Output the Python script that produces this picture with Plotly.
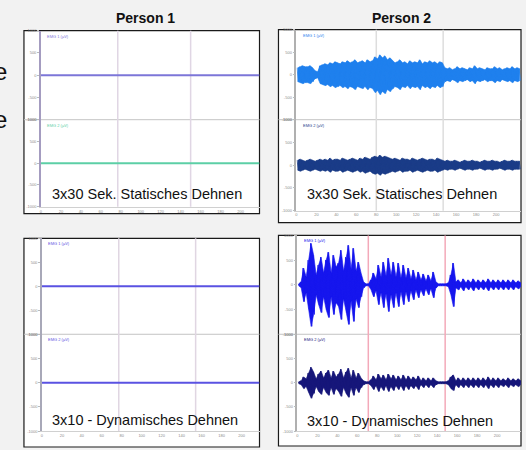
import numpy as np
import plotly.graph_objects as go

W, H = 526, 450

# ---------------- DATA ----------------
# Person 1 : flat signals (µV) over the recording duration (s)
p1_static_time = [0, 219]
p1_static_ch1 = [0, 0]
p1_static_ch2 = [0, 0]
p1_dyn_time = [0, 218]
p1_dyn_ch1 = [0, 0]
p1_dyn_ch2 = [0, 0]

# Person 2 : EMG envelope amplitude (µV), one value every 2.5 s
sample_dt = 2.5
p2_static_ch1 = [154, 176, 198, 176, 176, 198, 154, 88, 66,
                 198, 220, 242, 220, 264, 242, 286, 264, 242, 286, 264, 308, 264, 286, 330, 264, 286, 308, 264, 330, 286, 308,
                 396, 352, 440, 374, 418, 330, 374,
                 308, 264, 286, 330, 264, 286, 242, 308, 264, 286, 264, 330, 242, 286, 264, 308, 264, 286, 242, 286, 264,
                 154, 132, 154, 110, 132, 176, 132, 154, 132, 110, 154, 132, 198, 132, 154, 132, 110, 154, 132, 132, 176,
                 132, 154, 110, 132, 154, 132, 176, 132, 154, 132]
p2_static_ch2 = [110, 132, 110, 88, 110, 132, 110, 88, 110, 132, 110, 132, 110, 154, 110, 132, 132, 110, 154, 132,
                 110, 132, 154, 132, 110, 154, 132, 176, 154, 132, 176,
                 198, 176, 220, 176, 198, 176, 154,
                 132, 154, 132, 110, 154, 132, 132, 110, 154, 132, 110, 132, 154, 132, 110, 132, 132, 110, 154, 132, 110,
                 88, 110, 88, 88, 110, 88, 66, 88, 110, 88, 88, 110, 88, 88, 66, 88, 110, 88, 88, 110, 88, 88, 66, 88,
                 110, 88, 88, 110, 88, 88, 88]
p2_dyn_ch1 = [20, 60, 340, 160, 500, 840, 600, 200, 400, 560,
              240, 500, 660, 240, 600, 360, 440, 700, 280, 560,
              800, 320, 740, 280, 460, 240, 60, 20, 20, 100,
              240, 120, 400, 160, 460, 180, 540, 200, 460, 160,
              440, 140, 400, 140, 340, 120, 300, 100, 260, 100,
              220, 80, 200, 80, 260, 60, 20, 20, 20, 20,
              40, 200, 440, 60, 100, 40, 120, 40, 100, 40,
              120, 40, 100, 40, 100, 40, 120, 40, 100, 40,
              100, 40, 100, 40, 100, 40, 100, 40, 80, 40]
p2_dyn_ch2 = [20, 40, 120, 80, 200, 320, 220, 80, 180, 240,
              100, 200, 260, 100, 240, 120, 180, 280, 100, 220,
              300, 100, 260, 100, 200, 100, 40, 20, 20, 60,
              140, 60, 180, 80, 160, 60, 180, 80, 160, 60,
              140, 60, 160, 60, 140, 60, 120, 60, 140, 40,
              100, 40, 100, 40, 100, 40, 20, 20, 20, 20,
              40, 120, 160, 40, 100, 40, 100, 40, 100, 40,
              100, 40, 100, 40, 100, 40, 120, 40, 100, 40,
              100, 40, 80, 40, 100, 40, 80, 40, 80, 40]

# event markers (s)
markers_p1_static = [77, 150]
markers_p2_static = [80, 147]
markers_p1_dyn = [77, 154]
markers_p2_dyn = [71, 148]

# durations (s)
dur_p1_static, dur_p2_static, dur_p1_dyn, dur_p2_dyn = 219, 225, 218, 224

column_titles = ["Person 1", "Person 2"]
panel_texts = ["3x30 Sek. Statisches Dehnen", "3x30 Sek. Statisches Dehnen",
               "3x10 - Dynamisches Dehnen", "3x10 - Dynamisches Dehnen"]
channel_names = ["EMG 1 (µV)", "EMG 2 (µV)"]
ytick_vals = [-1000, -500, 0, 500, 1000]
ytick_text = ["-1000", "-500", "0", "500", "1000"]

# ---------------- LAYOUT GEOMETRY (pixels) ----------------
def px_x(p):
    return p / W

def px_y(p):
    return 1 - p / H

panels = [
    dict(box=(23, 28, 259, 213), axx=40, ch=[(28, 118), (118, 206)], kind="flat",
         time=p1_static_time, data=[p1_static_ch1, p1_static_ch2], dur=dur_p1_static,
         colors=["#7c76d8", "#5ccfa6"], markers=markers_p1_static, mcol="#e0d6e4",
         text=panel_texts[0], tx=146, ty=193, axcol="#a49cc0"),
    dict(box=(278, 27, 521, 222), axx=296, ch=[(27, 118), (118, 210)], kind="emg",
         data=[p2_static_ch1, p2_static_ch2], dur=dur_p2_static,
         colors=["#1f80ee", "#1b3c88"], markers=markers_p2_static, mcol="#dddddd",
         text=panel_texts[1], tx=402, ty=193, axcol="#b0b0b0"),
    dict(box=(23, 238, 259, 449), axx=41, ch=[(238, 335), (335, 433)], kind="flat",
         time=p1_dyn_time, data=[p1_dyn_ch1, p1_dyn_ch2], dur=dur_p1_dyn,
         colors=["#5a52e2", "#5a52e2"], markers=markers_p1_dyn, mcol="#e0d6e2",
         text=panel_texts[2], tx=144, ty=422, axcol="#a8a8b8"),
    dict(box=(278, 235, 521, 448), axx=297, ch=[(235, 335), (335, 433)], kind="emg",
         data=[p2_dyn_ch1, p2_dyn_ch2], dur=dur_p2_dyn,
         colors=["#1616ee", "#17177a"], markers=markers_p2_dyn, mcol="#f3a9b9",
         text=panel_texts[3], tx=400, ty=423, axcol="#b0b0b0"),
]

fig = go.Figure()
shapes = []
annotations = []
layout_axes = {}

for pi, p in enumerate(panels):
    bx0, by0, bx1, by1 = p["box"]
    shapes.append(dict(type="rect", xref="paper", yref="paper",
                       x0=px_x(bx0), x1=px_x(bx1), y0=px_y(by1), y1=px_y(by0),
                       fillcolor="white", line=dict(color="#1a1a1a", width=1.2), layer="below"))
    shapes.append(dict(type="line", xref="paper", yref="paper",
                       x0=px_x(bx0), x1=px_x(bx1), y0=px_y(p["ch"][0][1]), y1=px_y(p["ch"][0][1]),
                       line=dict(color="#c4c4c4", width=1), layer="below"))
    for ci in range(2):
        n = 2 * pi + ci + 1
        xs = "x" if n == 1 else f"x{n}"
        ys = "y" if n == 1 else f"y{n}"
        xa = "xaxis" if n == 1 else f"xaxis{n}"
        ya = "yaxis" if n == 1 else f"yaxis{n}"
        top, bot = p["ch"][ci]
        layout_axes[xa] = dict(domain=[px_x(p["axx"]), px_x(bx1)], range=[0, p["dur"]], anchor=ys,
                               showgrid=False, zeroline=False,
                               showticklabels=(ci == 1), tickvals=list(range(0, p["dur"] - 8, 20)), ticks="",
                               tickfont=dict(size=4, color="#8c8c8c"),
                               showline=(ci == 1), linecolor="#d0d0d0", linewidth=1)
        layout_axes[ya] = dict(domain=[px_y(bot), px_y(top)], range=[-1000, 1000], anchor=xs,
                               showgrid=False, zeroline=False, tickvals=ytick_vals, ticktext=ytick_text,
                               ticks="outside", ticklen=2, tickcolor="#bbbbbb",
                               tickfont=dict(size=4, color="#8c8c8c"),
                               showline=True, linecolor=p["axcol"], linewidth=1.5)
        col = p["colors"][ci]
        if p["kind"] == "flat":
            fig.add_trace(go.Scatter(x=p["time"], y=p["data"][ci], mode="lines",
                                     line=dict(color=col, width=2), xaxis=xs, yaxis=ys,
                                     showlegend=False, hoverinfo="skip"))
        else:
            amp = np.array(p["data"][ci], dtype=float)
            t = np.arange(len(amp)) * sample_dt + sample_dt / 2
            fig.add_trace(go.Scatter(x=t, y=-amp, mode="lines", line=dict(color=col, width=0.6),
                                     xaxis=xs, yaxis=ys, showlegend=False, hoverinfo="skip"))
            fig.add_trace(go.Scatter(x=t, y=amp, mode="lines", fill="tonexty", fillcolor=col,
                                     line=dict(color=col, width=0.6),
                                     xaxis=xs, yaxis=ys, showlegend=False, hoverinfo="skip"))
            zz_t = np.repeat(t, 2) + np.tile([-0.6, 0.6], len(t))
            zz_y = np.repeat(amp, 2) * np.tile([1.0, -1.0], len(t))
            fig.add_trace(go.Scatter(x=zz_t, y=zz_y, mode="lines", line=dict(color=col, width=0.8),
                                     xaxis=xs, yaxis=ys, showlegend=False, hoverinfo="skip"))
        annotations.append(dict(xref=f"{xs} domain", yref=f"{ys} domain", x=0.02, y=0.99,
                                xanchor="left", yanchor="top", showarrow=False,
                                text=channel_names[ci], font=dict(size=4, color=col)))
    xs1 = "x" if pi == 0 else f"x{2 * pi + 1}"
    for m in p["markers"]:
        shapes.append(dict(type="line", xref=xs1, yref="paper", x0=m, x1=m,
                           y0=px_y(p["ch"][1][1]), y1=px_y(p["ch"][0][0]),
                           line=dict(color=p["mcol"], width=1.5), layer="below"))
    annotations.append(dict(xref="paper", yref="paper", x=px_x(p["tx"]), y=px_y(p["ty"]),
                            xanchor="center", yanchor="middle", showarrow=False, text=p["text"],
                            font=dict(size=14.5, color="#111111", family="Liberation Sans, Arial")))

for txt, cx in zip(column_titles, [145, 401]):
    annotations.append(dict(xref="paper", yref="paper", x=px_x(cx), y=px_y(15),
                            xanchor="center", yanchor="middle", showarrow=False,
                            text=f"<b>{txt}</b>",
                            font=dict(size=14, color="#111111", family="Liberation Sans, Arial")))

# row labels cut off at the left edge (as in the reference)
for cy in [69.5, 118]:
    annotations.append(dict(xref="paper", yref="paper", x=px_x(8.5), y=px_y(cy),
                            xanchor="right", yanchor="middle", showarrow=False, text="e",
                            font=dict(size=24, color="#111111", family="Liberation Sans, Arial")))

fig.update_layout(width=W, height=H, margin=dict(l=0, r=0, t=0, b=0),
                  paper_bgcolor="#f2f2f2", plot_bgcolor="rgba(0,0,0,0)",
                  shapes=shapes, annotations=annotations, showlegend=False,
                  font=dict(family="Liberation Sans, Arial"), **layout_axes)

fig.write_html("out.html", config={"displayModeBar": False},
               post_script="document.body.style.margin='0px';document.body.style.background='#f2f2f2';")
